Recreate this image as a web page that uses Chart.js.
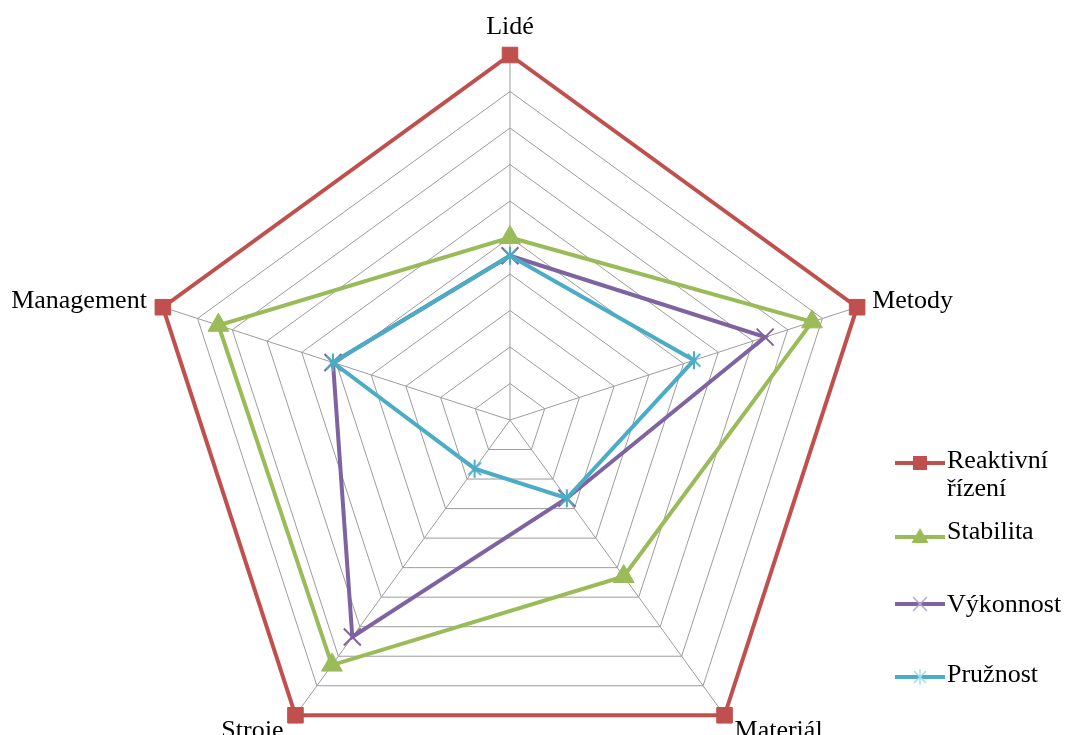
<!DOCTYPE html>
<html>
<head>
<meta charset="utf-8">
<script src="https://cdn.jsdelivr.net/npm/chart.js@4.4.1/dist/chart.umd.min.js"></script>
<style>
  html, body { margin: 0; padding: 0; background: #ffffff; overflow: hidden; }
  canvas { display: block; }
</style>
</head>
<body>
<canvas id="radar" width="1065" height="820" style="width:1065px;height:820px"></canvas>
<script>
// Axis categories (clockwise from the top)
const categories = ['Lidé', 'Metody', 'Materiál', 'Stroje', 'Management'];

// Series names and values
const seriesNames = ['Reaktivní řízení', 'Stabilita', 'Výkonnost', 'Pružnost'];
const reaktivniRizeni = [10, 10, 10, 10, 10];
const stabilita       = [5.0, 8.7, 5.3, 8.3, 8.4];
const vykonnost       = [4.5, 7.35, 2.65, 7.35, 5.1];
const pruznost        = [4.5, 5.3, 2.65, 1.65, 5.1];

// Radial scale range
const scaleMin = 0;
const scaleMax = 10;
const scaleStep = 1;

const RED = '#C0504D', GREEN = '#9BBB59', PURPLE = '#7F63A1', CYAN = '#4BACC6';
const FONT = '26px "Liberation Serif", "Times New Roman", serif';

// Asterisk marker (vertical bar + diagonal cross) drawn on a small canvas
function asteriskImage(color, size, lw) {
  const c = document.createElement('canvas');
  c.width = size; c.height = size;
  const g = c.getContext('2d');
  const m = size / 2, r = size / 2 - 1, d = r * Math.SQRT1_2;
  g.strokeStyle = color; g.lineWidth = lw;
  g.beginPath();
  g.moveTo(m, m - r); g.lineTo(m, m + r);
  g.moveTo(m - d, m - d); g.lineTo(m + d, m + d);
  g.moveTo(m + d, m - d); g.lineTo(m - d, m + d);
  g.stroke();
  return c;
}

function legendMarker(ctx, kind, x, y, color) {
  ctx.save();
  ctx.fillStyle = color; ctx.strokeStyle = color;
  if (kind === 'rect') {
    ctx.fillRect(x - 7, y - 7, 14, 14);
  } else if (kind === 'triangle') {
    ctx.beginPath();
    ctx.moveTo(x, y - 9); ctx.lineTo(x + 8.5, y + 6); ctx.lineTo(x - 8.5, y + 6);
    ctx.closePath(); ctx.fill();
  } else if (kind === 'cross') {
    ctx.lineWidth = 1.5; ctx.strokeStyle = '#B9A8D6';
    ctx.beginPath();
    ctx.moveTo(x - 7, y - 7); ctx.lineTo(x + 7, y + 7);
    ctx.moveTo(x + 7, y - 7); ctx.lineTo(x - 7, y + 7);
    ctx.stroke();
  } else {
    ctx.lineWidth = 1.5; ctx.strokeStyle = '#A5DCEB';
    ctx.beginPath();
    ctx.moveTo(x, y - 8); ctx.lineTo(x, y + 8);
    ctx.moveTo(x - 6, y - 6); ctx.lineTo(x + 6, y + 6);
    ctx.moveTo(x + 6, y - 6); ctx.lineTo(x - 6, y + 6);
    ctx.stroke();
  }
  ctx.restore();
}

// Axis titles at the outer vertices plus the legend on the right
const annotations = {
  id: 'annotations',
  afterDraw(chart) {
    const r = chart.scales.r;
    const ctx = chart.ctx;
    ctx.save();
    ctx.font = FONT;
    ctx.fillStyle = '#000000';
    ctx.textBaseline = 'alphabetic';
    const place = [
      { dx: 0,   dy: -21, align: 'center' },
      { dx: 15,  dy: 1,   align: 'left' },
      { dx: 10,  dy: 23,  align: 'left' },
      { dx: -12, dy: 23,  align: 'right' },
      { dx: -16, dy: 1,   align: 'right' }
    ];
    categories.forEach((name, i) => {
      const p = r.getPointPosition(i, r.drawingArea);
      ctx.textAlign = place[i].align;
      ctx.fillText(name, p.x + place[i].dx, p.y + place[i].dy);
    });

    // Legend
    const rows = [
      { kind: 'rect',     color: RED,    lineY: 463, text: ['Reaktivní', 'řízení'], base: [468, 496] },
      { kind: 'triangle', color: GREEN,  lineY: 537, text: ['Stabilita'],           base: [539] },
      { kind: 'cross',    color: PURPLE, lineY: 604, text: ['Výkonnost'],           base: [612] },
      { kind: 'star',     color: CYAN,   lineY: 677, text: ['Pružnost'],            base: [682] }
    ];
    rows.forEach((row) => {
      ctx.strokeStyle = row.color;
      ctx.lineWidth = 4;
      ctx.beginPath();
      ctx.moveTo(895, row.lineY); ctx.lineTo(945, row.lineY);
      ctx.stroke();
      legendMarker(ctx, row.kind, 920, row.lineY, row.color);
      ctx.fillStyle = '#000000';
      ctx.textAlign = 'left';
      ctx.font = FONT;
      row.text.forEach((t, k) => ctx.fillText(t, 947, row.base[k]));
    });
    ctx.restore();
  }
};

const ds = (label, data, color, style, radius, pbw, order) => ({
  label, data,
  borderColor: color,
  backgroundColor: color,
  borderWidth: 4,
  fill: false,
  pointStyle: style,
  pointRadius: radius,
  pointHoverRadius: radius,
  pointBackgroundColor: color,
  pointBorderColor: color,
  pointBorderWidth: pbw,
  order,
  clip: false
});

new Chart(document.getElementById('radar'), {
  type: 'radar',
  data: {
    labels: categories,
    datasets: [
      ds(seriesNames[0], reaktivniRizeni, RED, 'rect', 11, 1, 3),
      ds(seriesNames[1], stabilita, GREEN, 'triangle', 12, 1, 2),
      ds(seriesNames[2], vykonnost, PURPLE, 'crossRot', 12, 2, 1),
      ds(seriesNames[3], pruznost, CYAN, asteriskImage(CYAN, 20, 2), 10, 2, 0)
    ]
  },
  options: {
    responsive: false,
    animation: false,
    devicePixelRatio: 1,
    layout: { padding: { left: 110, right: 155, top: 55, bottom: 35 } },
    elements: { line: { tension: 0 } },
    plugins: { legend: { display: false }, tooltip: { enabled: false } },
    scales: {
      r: {
        min: scaleMin,
        max: scaleMax,
        ticks: { stepSize: scaleStep, display: false },
        grid: { color: '#9C9C9C', lineWidth: 1, circular: false },
        angleLines: { color: '#9C9C9C', lineWidth: 1 },
        pointLabels: { display: false }
      }
    }
  },
  plugins: [annotations]
});
</script>
</body>
</html>
